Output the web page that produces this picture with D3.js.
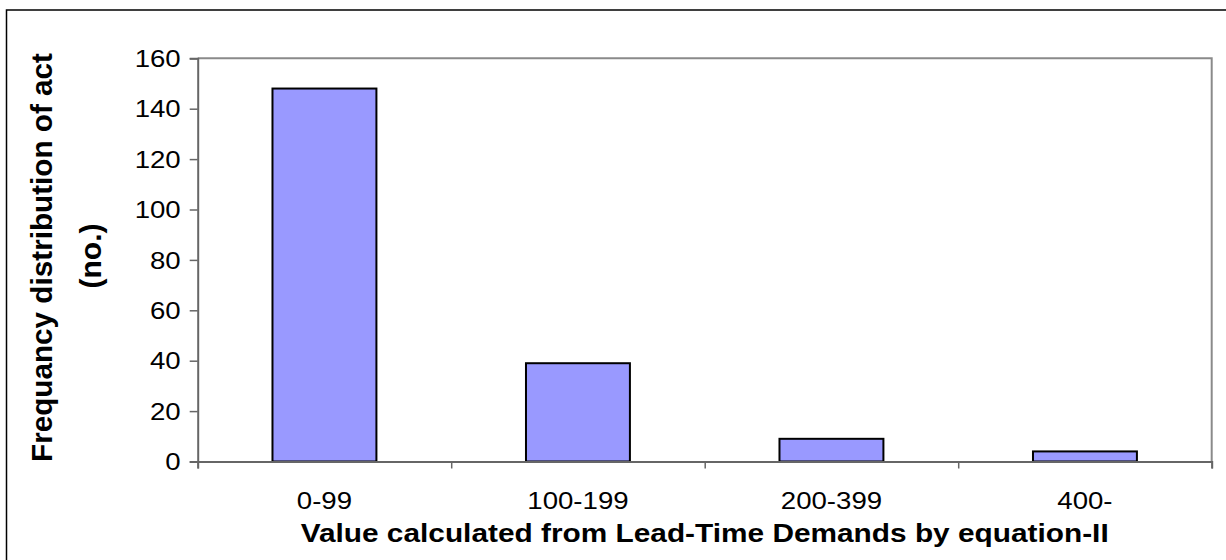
<!DOCTYPE html>
<html>
<head>
<meta charset="utf-8">
<script src="https://cdn.jsdelivr.net/npm/d3@7"></script>
<style>
  html, body { margin: 0; padding: 0; background: #fff; }
  svg { display: block; font-family: "Liberation Sans", Arial, sans-serif; }
</style>
</head>
<body>
<svg id="chart" width="1226" height="560"></svg>
<script>
const categories = ["0-99", "100-199", "200-399", "400-"];
const values = [148, 39, 9, 4];
const yTicks = [0, 20, 40, 60, 80, 100, 120, 140, 160];
const xTitle = "Value calculated from Lead-Time Demands by equation-II";
const yTitleLines = ["Frequancy distribution of act", "(no.)"];

const svg = d3.select("#chart");
const W = 1226, H = 560;
const plot = { left: 197.7, right: 1211.7, top: 58.3, bottom: 461.5 };
const stretch = 1.2;

// outer chart border (clipped at right/bottom as in reference)
svg.append("rect")
  .attr("x", 6.5).attr("y", 10).attr("width", 1240).attr("height", 600)
  .attr("fill", "none").attr("stroke", "#000").attr("stroke-width", 1.5);

const x = d3.scaleBand().domain(categories)
  .range([plot.left, plot.right]).paddingInner(0.59).paddingOuter(0.295);
const xEdge = d3.scaleLinear().domain([0, categories.length]).range([plot.left, plot.right]);
const y = d3.scaleLinear().domain([0, 160]).range([plot.bottom, plot.top]);

// plot area top & right border
svg.append("path")
  .attr("d", `M${plot.left},${plot.top}H${plot.right}V${plot.bottom}`)
  .attr("fill", "none").attr("stroke", "#8a8a8a").attr("stroke-width", 2);

// bars
svg.append("g").selectAll("rect").data(values).join("rect")
  .attr("x", (d, i) => x(categories[i]))
  .attr("width", x.bandwidth())
  .attr("y", d => y(d))
  .attr("height", d => y(0) - y(d))
  .attr("fill", "#9999ff")
  .attr("stroke", "#000")
  .attr("stroke-width", 2);

function stretchText(sel, k) {
  sel.each(function() {
    const len = this.getComputedTextLength();
    d3.select(this).attr("textLength", len * k).attr("lengthAdjust", "spacingAndGlyphs");
  });
}

// y axis
const gy = svg.append("g").attr("transform", `translate(${plot.left},0)`)
  .call(d3.axisLeft(y).tickValues(yTicks).tickSize(8).tickPadding(9).tickFormat(d3.format("d")));
gy.select(".domain").attr("stroke", "#666").attr("stroke-width", 2);
gy.selectAll(".tick line").attr("stroke", "#666").attr("stroke-width", 1.5);
gy.selectAll(".tick text").attr("font-size", 23).attr("fill", "#000")
  .attr("font-family", "Liberation Sans, Arial, sans-serif").attr("dy", "0.36em");
stretchText(gy.selectAll(".tick text"), stretch);

// x axis: boundary ticks
const gxe = svg.append("g").attr("transform", `translate(0,${plot.bottom})`)
  .call(d3.axisBottom(xEdge).ticks(categories.length).tickSize(7).tickFormat(""));
gxe.select(".domain").attr("stroke", "#666").attr("stroke-width", 2);
gxe.selectAll(".tick line").attr("stroke", "#666").attr("stroke-width", 1.5);

// x axis: category labels
const gx = svg.append("g").attr("transform", `translate(0,${plot.bottom})`)
  .call(d3.axisBottom(x).tickSize(0));
gx.select(".domain").remove();
gx.selectAll(".tick text").attr("font-size", 23).attr("fill", "#000")
  .attr("font-family", "Liberation Sans, Arial, sans-serif")
  .attr("y", 47.8).attr("dy", 0);
stretchText(gx.selectAll(".tick text"), stretch);

// x title
svg.append("text")
  .attr("x", (plot.left + plot.right) / 2).attr("y", 541.7)
  .attr("text-anchor", "middle").attr("font-size", 26).attr("font-weight", "bold")
  .attr("textLength", 808).attr("lengthAdjust", "spacingAndGlyphs")
  .text(xTitle);

// y title
svg.append("text")
  .attr("transform", "translate(52,257.5) rotate(-90)")
  .attr("text-anchor", "middle").attr("font-size", 30).attr("font-weight", "bold")
  .attr("textLength", 409).attr("lengthAdjust", "spacingAndGlyphs")
  .text(yTitleLines[0]);
svg.append("text")
  .attr("transform", "translate(101,256) rotate(-90)")
  .attr("text-anchor", "middle").attr("font-size", 30).attr("font-weight", "bold")
  .text(yTitleLines[1]);
</script>
</body>
</html>
